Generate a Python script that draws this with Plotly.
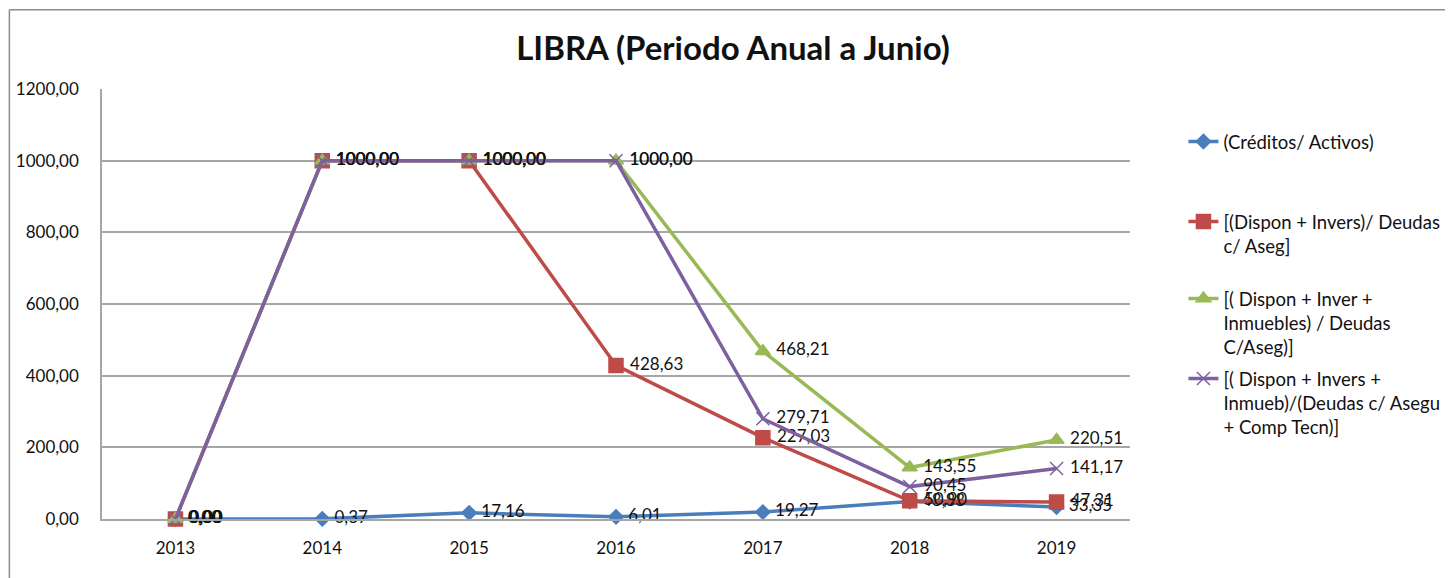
import plotly.graph_objects as go

years = ["2013", "2014", "2015", "2016", "2017", "2018", "2019"]
creditos_activos = [0.00, 0.37, 17.16, 6.01, 19.27, 48.88, 33.35]
dispon_invers = [0.00, 1000.00, 1000.00, 428.63, 227.03, 50.90, 47.31]
dispon_inver_inmuebles = [0.00, 1000.00, 1000.00, 1000.00, 468.21, 143.55, 220.51]
dispon_invers_inmueb_comp = [0.00, 1000.00, 1000.00, 1000.00, 279.71, 90.45, 141.17]

names = [
    "(Créditos/ Activos)",
    "[(Dispon + Invers)/ Deudas<br>c/ Aseg]",
    "[( Dispon + Inver +<br>Inmuebles) / Deudas<br>C/Aseg)]",
    "[( Dispon + Invers +<br>Inmueb)/(Deudas c/ Asegu<br>+ Comp Tecn)]",
]
series = [creditos_activos, dispon_invers, dispon_inver_inmuebles, dispon_invers_inmueb_comp]
colors = ["#4A7EBB", "#BE4B48", "#98B954", "#7D60A0"]
symbols = ["diamond", "square", "triangle-up", "x-thin"]
sizes = [11, 14, 13, 13]

FONT = "Lato"
OFF = 8  # browser body margin
W, H = 1453 - OFF, 578 - OFF
L, R, T, B = 101.5 - OFF, 1130.5 - OFF, 89 - OFF, 519 - OFF
pw, ph = R - L, B - T


def px_to_paper(x, y):
    return (x - OFF - L) / pw, (B - (y - OFF)) / ph


fig = go.Figure()
legend_centers = [142, 234, 323, 403]
for i, (name, vals, c, s, sz) in enumerate(zip(names, series, colors, symbols, sizes)):
    lg = "legend" if i == 0 else f"legend{i+1}"
    fig.add_trace(go.Scatter(
        x=years, y=vals, name=name, mode="lines+markers+text",
        line=dict(color=c, width=3.5),
        marker=dict(symbol=s, size=sz, color=c, line=dict(color=c, width=1.5)),
        text=["\u00a0" + f"{v:.2f}".replace(".", ",") for v in vals],
        textposition="middle right",
        textfont=dict(family=FONT, size=17, color="#111111"),
        cliponaxis=False,
        legend=lg,
    ))

leg_x, _ = px_to_paper(1184, 0)
for i, cy in enumerate(legend_centers):
    _, ly = px_to_paper(0, cy)
    key = "legend" if i == 0 else f"legend{i+1}"
    fig.update_layout({key: dict(
        x=leg_x, y=ly, xanchor="left", yanchor="middle",
        font=dict(family=FONT, size=18.5, color="#111111"),
        bgcolor="rgba(0,0,0,0)", valign="top", itemwidth=30,
    )})

x0, y0 = px_to_paper(8.8, 9.8)
x1, y1 = px_to_paper(1460, 590)
fig.add_shape(type="line", xref="paper", yref="paper", x0=x0, y0=y0, x1=x1, y1=y0,
              line=dict(color="#8C8C8C", width=1.5))
fig.add_shape(type="line", xref="paper", yref="paper", x0=x0, y0=y0, x1=x0, y1=y1,
              line=dict(color="#8C8C8C", width=1.5))

fig.update_layout(
    width=W, height=H,
    margin=dict(l=L, r=W - R, t=T, b=H - B, pad=0, autoexpand=False),
    paper_bgcolor="white", plot_bgcolor="white",
    separators=",.",
    showlegend=True,
    title=dict(text="<b>LIBRA (Periodo Anual a Junio)</b>", x=(733 - OFF) / W, xanchor="center",
               y=1 - (48 - OFF) / H, yanchor="middle",
               font=dict(family=FONT, size=33, color="#111111")),
    xaxis=dict(type="category", range=[-0.5, 6.5], showgrid=False, ticks="",
               showline=True, linecolor="#A6A6A6", linewidth=1.5,
               tickfont=dict(family=FONT, size=17, color="#111111"),
               ticklabelstandoff=13, zeroline=False),
    yaxis=dict(range=[0, 1200], dtick=200, tickformat=".2f", showgrid=True,
               gridcolor="#A6A6A6", gridwidth=1.5, showline=True, linecolor="#A6A6A6",
               linewidth=1.5, ticks="", zeroline=False,
               tickfont=dict(family=FONT, size=17, color="#111111"),
               ticklabelstandoff=18),
)

fig.write_html("out.html")
